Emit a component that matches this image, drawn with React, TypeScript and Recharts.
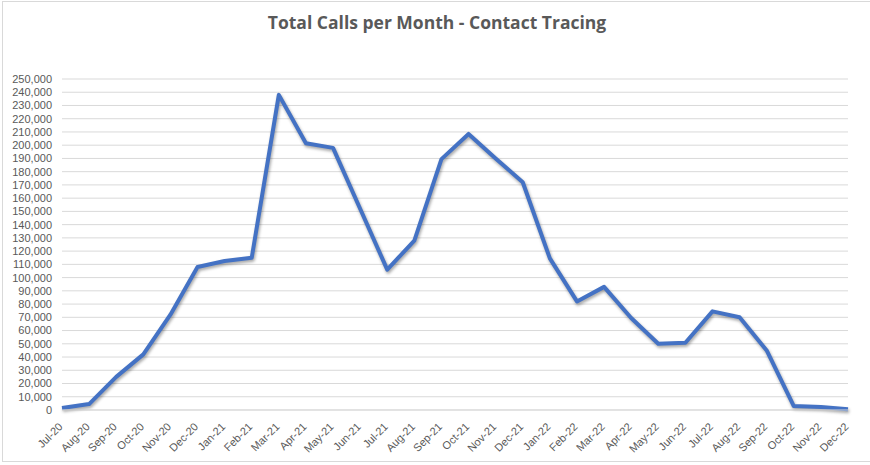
import { LineChart, Line, XAxis, YAxis, CartesianGrid } from "recharts";

// months shown on the category axis
const months = [
  "Jul-20", "Aug-20", "Sep-20", "Oct-20", "Nov-20", "Dec-20",
  "Jan-21", "Feb-21", "Mar-21", "Apr-21", "May-21", "Jun-21",
  "Jul-21", "Aug-21", "Sep-21", "Oct-21", "Nov-21", "Dec-21",
  "Jan-22", "Feb-22", "Mar-22", "Apr-22", "May-22", "Jun-22",
  "Jul-22", "Aug-22", "Sep-22", "Oct-22", "Nov-22", "Dec-22",
];

// total calls
const calls = [
  1500, 4500, 25000, 42000, 72000, 108000,
  112500, 115000, 238000, 201500, 198000, 152000,
  106000, 128000, 189500, 208500, 190000, 172000,
  114500, 82000, 93000, 69500, 50000, 50800,
  74500, 70000, 45000, 3000, 2200, 600,
];

const yTicks = [
  0, 10000, 20000, 30000, 40000, 50000, 60000, 70000, 80000, 90000,
  100000, 110000, 120000, 130000, 140000, 150000, 160000, 170000, 180000,
  190000, 200000, 210000, 220000, 230000, 240000, 250000,
];

const data = months.map((m, i) => ({ month: m, calls: calls[i] }));

const TITLE_FONT = "'Open Sans', sans-serif";
const TICK_FONT = "'Liberation Sans', Arial, sans-serif";
const GREY = "#595959";

function MonthTick({ x, y, payload }: any) {
  return (
    <text
      x={x}
      y={y}
      dy={10}
      textAnchor="end"
      transform={`rotate(-45, ${x}, ${y + 8})`}
      fill={GREY}
      fontSize={11}
      fontFamily={TICK_FONT}
    >
      {payload.value}
    </text>
  );
}

export default function App() {
  return (
    <div
      style={{
        position: "absolute",
        left: 0,
        top: 0,
        width: 870,
        height: 465,
        background: "#fff",
      }}
    >
      <div
        style={{
          position: "absolute",
          left: 2,
          top: 1,
          width: 880,
          height: 461,
          border: "1px solid #d9d9d9",
          boxSizing: "border-box",
        }}
      />
      <div
        style={{
          position: "absolute",
          left: 0,
          top: 10,
          width: 874,
          textAlign: "center",
          fontFamily: TITLE_FONT,
          fontWeight: 700,
          fontSize: 17.5,
          color: GREY,
        }}
      >
        Total Calls per Month - Contact Tracing
      </div>
      <LineChart
        width={870}
        height={465}
        data={data}
        margin={{ top: 79, right: 22, bottom: 5, left: 0 }}
        style={{ position: "absolute", left: 0, top: 0 }}
      >
        <CartesianGrid vertical={false} stroke="#d9d9d9" strokeWidth={1} />
        <XAxis
          dataKey="month"
          interval={0}
          tickLine={false}
          axisLine={{ stroke: "#d9d9d9" }}
          height={50}
          tick={<MonthTick />}
        />
        <YAxis
          width={62}
          domain={[0, 250000]}
          ticks={yTicks}
          interval={0}
          axisLine={false}
          tickLine={false}
          tickMargin={4}
          tickFormatter={(v: number) => v.toLocaleString("en-US")}
          tick={{ fill: GREY, fontSize: 11, fontFamily: TICK_FONT }}
        />
        <Line
          type="linear"
          dataKey="calls"
          stroke="#4472C4"
          strokeWidth={4}
          strokeLinejoin="round"
          dot={false}
          activeDot={false}
          isAnimationActive={false}
          style={{ filter: "drop-shadow(1px 2px 1.5px rgba(0,0,0,0.35))" }}
        />
      </LineChart>
    </div>
  );
}
